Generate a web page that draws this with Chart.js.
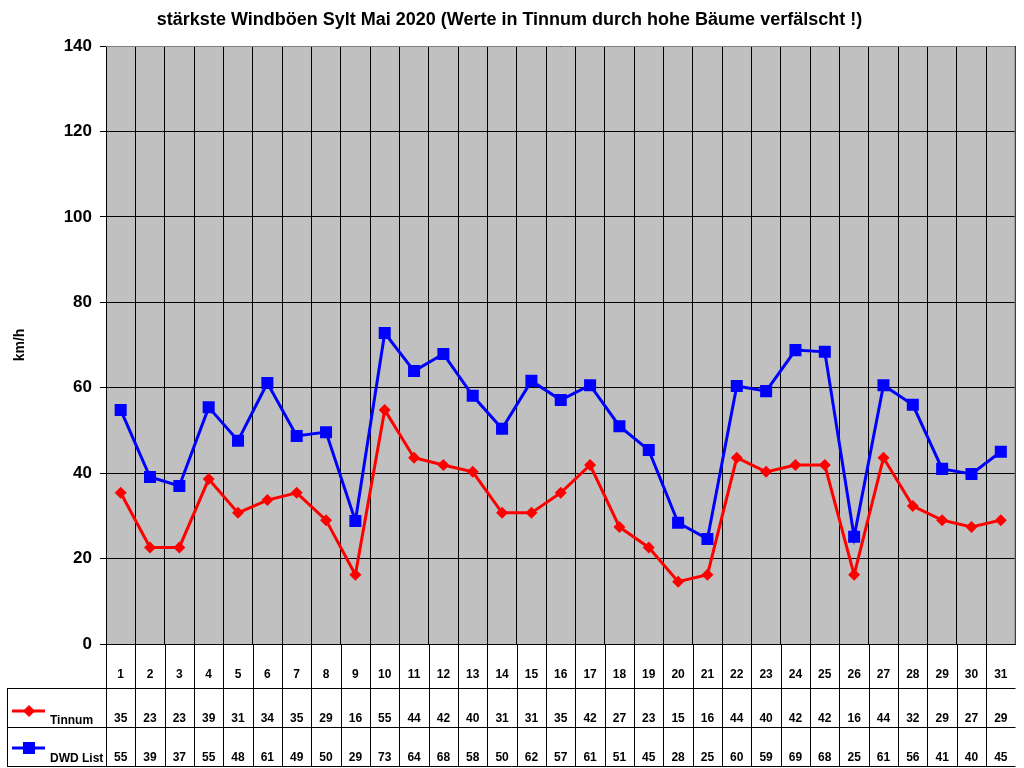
<!DOCTYPE html>
<html>
<head>
<meta charset="utf-8">
<title>Windböen Sylt Mai 2020</title>
<script src="https://cdn.jsdelivr.net/npm/chart.js@4.4.1/dist/chart.umd.min.js"></script>
<style>
  html, body { margin: 0; padding: 0; background: #fff; }
  canvas { display: block; }
</style>
</head>
<body>
<canvas id="myChart" width="1024" height="768"></canvas>
<script>
// days of May 2020
var days = ['1','2','3','4','5','6','7','8','9','10','11','12','13','14','15','16',
            '17','18','19','20','21','22','23','24','25','26','27','28','29','30','31'];

// strongest gusts in km/h
var tinnum = [35.4, 22.6, 22.6, 38.6, 30.7, 33.7, 35.4, 29.0, 16.2, 54.8, 43.6, 41.9, 40.3, 30.7, 30.7, 35.4,
              41.9, 27.4, 22.6, 14.6, 16.2, 43.6, 40.3, 41.9, 41.9, 16.2, 43.6, 32.3, 29.0, 27.4, 29.0];
var dwdList = [54.8, 39.1, 37.0, 55.4, 47.6, 61.1, 48.7, 49.6, 28.8, 72.8, 63.9, 67.9, 58.1, 50.4, 61.6, 57.1,
               60.6, 51.0, 45.4, 28.4, 24.6, 60.4, 59.2, 68.8, 68.4, 25.1, 60.6, 56.0, 41.0, 39.8, 45.0];

var yTicks = [0, 20, 40, 60, 80, 100, 120, 140];

var FONT = 'Arial, "Liberation Sans", sans-serif';

// grey plot background
var plotBackground = {
    id: 'plotBackground',
    beforeDraw: function (chart) {
        var ctx = chart.ctx, a = chart.chartArea;
        ctx.save();
        ctx.fillStyle = '#c0c0c0';
        ctx.fillRect(a.left, a.top, a.right - a.left, a.bottom - a.top);
        ctx.restore();
    },
    beforeDatasetsDraw: function (chart) {
        // grey frame top and right, like excel
        var ctx = chart.ctx, a = chart.chartArea;
        ctx.save();
        ctx.strokeStyle = '#808080';
        ctx.lineWidth = 1;
        ctx.beginPath();
        ctx.moveTo(a.left, a.top + 0.5);
        ctx.lineTo(a.right - 0.5, a.top + 0.5);
        ctx.lineTo(a.right - 0.5, a.bottom);
        ctx.stroke();
        ctx.restore();
    }
};

// excel style data table under the plot
var dataTable = {
    id: 'dataTable',
    afterDraw: function (chart) {
        var ctx = chart.ctx, a = chart.chartArea;
        var x = chart.scales.x;
        var half = (x.getPixelForValue(1) - x.getPixelForValue(0)) / 2;
        var rowTop = a.bottom, row1 = 688, row2 = 727, rowEnd = 767, tableLeft = 7;

        ctx.save();
        ctx.strokeStyle = '#000';
        ctx.lineWidth = 1;
        ctx.beginPath();
        // horizontal lines
        ctx.moveTo(tableLeft, row1 + 0.5); ctx.lineTo(a.right, row1 + 0.5);
        ctx.moveTo(tableLeft, row2 + 0.5); ctx.lineTo(a.right, row2 + 0.5);
        ctx.moveTo(tableLeft, rowEnd - 0.5); ctx.lineTo(a.right, rowEnd - 0.5);
        // left edge of legend cells
        ctx.moveTo(tableLeft + 0.5, row1); ctx.lineTo(tableLeft + 0.5, rowEnd);
        // column lines
        for (var i = 0; i < days.length; i++) {
            var bx = Math.round(x.getPixelForValue(i) - half) + 0.5;
            ctx.moveTo(bx, rowTop); ctx.lineTo(bx, rowEnd);
        }
        ctx.stroke();

        ctx.fillStyle = '#000';
        ctx.font = 'bold 12px ' + FONT;
        ctx.textAlign = 'center';
        ctx.textBaseline = 'alphabetic';
        for (var j = 0; j < days.length; j++) {
            var cx = x.getPixelForValue(j);
            ctx.fillText(days[j], cx, 678);
            ctx.fillText(String(Math.round(tinnum[j])), cx, 722);
            ctx.fillText(String(Math.round(dwdList[j])), cx, 761);
        }

        // legend keys
        ctx.textAlign = 'left';
        ctx.fillText('Tinnum', 50, 724);
        ctx.fillText('DWD List', 50, 762);

        ctx.lineWidth = 3;
        ctx.strokeStyle = '#ff0000';
        ctx.beginPath(); ctx.moveTo(12, 711); ctx.lineTo(45, 711); ctx.stroke();
        ctx.fillStyle = '#ff0000';
        ctx.beginPath();
        ctx.moveTo(29, 705); ctx.lineTo(35, 711); ctx.lineTo(29, 717); ctx.lineTo(23, 711);
        ctx.closePath(); ctx.fill();

        ctx.strokeStyle = '#0000ff';
        ctx.beginPath(); ctx.moveTo(12, 748); ctx.lineTo(45, 748); ctx.stroke();
        ctx.fillStyle = '#0000ff';
        ctx.fillRect(23, 742, 12, 12);
        ctx.restore();
    }
};

var ctx = document.getElementById('myChart').getContext('2d');
var myChart = new Chart(ctx, {
    type: 'line',
    data: {
        labels: days,
        datasets: [
            {
                label: 'Tinnum',
                data: tinnum,
                borderColor: '#ff0000',
                backgroundColor: '#ff0000',
                borderWidth: 3,
                pointStyle: 'rectRot',
                pointRadius: 6,
                pointBorderWidth: 0,
                tension: 0
            },
            {
                label: 'DWD List',
                data: dwdList,
                borderColor: '#0000ff',
                backgroundColor: '#0000ff',
                borderWidth: 3,
                pointStyle: 'rect',
                pointRadius: 8.5,
                pointBorderWidth: 0,
                tension: 0
            }
        ]
    },
    options: {
        responsive: false,
        animation: false,
        devicePixelRatio: 1,
        layout: { padding: { left: 0, right: 5, top: 0, bottom: 0 } },
        plugins: {
            legend: { display: false },
            tooltip: { enabled: false },
            title: {
                display: true,
                text: 'stärkste Windböen Sylt Mai 2020 (Werte in Tinnum durch hohe Bäume verfälscht !)',
                color: '#000',
                font: { family: FONT, size: 18, weight: 'bold' },
                padding: { top: 9, bottom: 15.4 }
            }
        },
        scales: {
            x: {
                offset: true,
                grid: { offset: true, color: '#000', drawTicks: false },
                border: { color: '#000' },
                ticks: { display: false },
                afterFit: function (scale) { scale.height = 124; }
            },
            y: {
                min: 0,
                max: 140,
                afterBuildTicks: function (scale) {
                    scale.ticks = yTicks.map(function (v) { return { value: v }; });
                },
                grid: { color: '#000', tickLength: 6 },
                border: { color: '#000' },
                ticks: {
                    color: '#000',
                    padding: 8,
                    font: { family: FONT, size: 17, weight: 'bold' }
                },
                title: {
                    display: true,
                    text: 'km/h',
                    color: '#000',
                    font: { family: FONT, size: 14, weight: 'bold' },
                    padding: { top: 12, bottom: 0 }
                },
                afterFit: function (scale) { scale.width = 106; }
            }
        }
    },
    plugins: [plotBackground, dataTable]
});
</script>
</body>
</html>
